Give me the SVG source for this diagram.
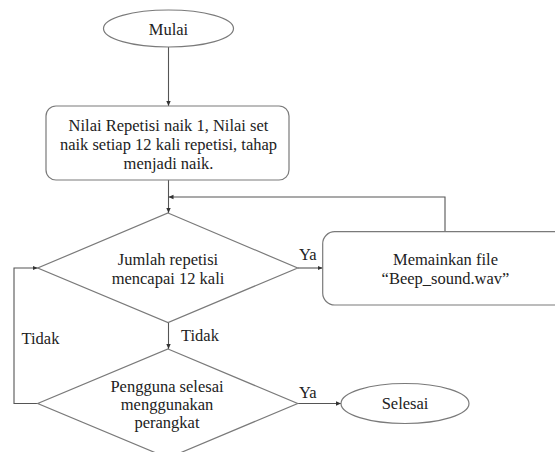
<svg xmlns="http://www.w3.org/2000/svg" width="555" height="452" viewBox="0 0 555 452">
<style>
.shape{fill:#fff;stroke:#7a7a7a;stroke-width:1.2}
.conn{fill:none;stroke:#555;stroke-width:1.1}
</style>
<defs>
<marker id="ah" markerUnits="userSpaceOnUse" markerWidth="6" markerHeight="6" refX="5" refY="3" orient="auto">
<path d="M0,0.8 L5,3 L0,5.2 Z" fill="#333"/>
</marker>
</defs>
<rect width="555" height="452" fill="#fff"/>
<g id="connectors">
<line class="conn" x1="168.5" y1="47" x2="168.5" y2="106" marker-end="url(#ah)"/>
<line class="conn" x1="168.5" y1="180" x2="168.5" y2="213" marker-end="url(#ah)"/>
<polyline class="conn" points="445,231.7 445,197 168.5,197" marker-end="url(#ah)"/>
<line class="conn" x1="297.7" y1="268" x2="322.5" y2="268" marker-end="url(#ah)"/>
<line class="conn" x1="168.5" y1="322" x2="168.5" y2="349" marker-end="url(#ah)"/>
<polyline class="conn" points="37.7,403.5 14,403.5 14,268 37.7,268" marker-end="url(#ah)"/>
<line class="conn" x1="297.7" y1="403.5" x2="341" y2="403.5" marker-end="url(#ah)"/>
<text font-family="Liberation Serif" font-size="16.5" fill="#222" x="299" y="260">Ya</text>
<text font-family="Liberation Serif" font-size="16.5" fill="#222" x="299" y="398">Ya</text>
<text font-family="Liberation Serif" font-size="16.5" fill="#222" x="181" y="341">Tidak</text>
<text font-family="Liberation Serif" font-size="16.5" fill="#222" x="21.5" y="343.5">Tidak</text>
</g>
<g id="mulai">
<ellipse class="shape" cx="168.5" cy="28.5" rx="65" ry="18.5"/>
<text font-family="Liberation Serif" font-size="16.5" fill="#222" text-anchor="middle" x="168.5" y="34.5">Mulai</text>
</g>
<g id="proses">
<rect class="shape" x="46" y="106" width="243" height="74" rx="10"/>
<text font-family="Liberation Serif" font-size="16.5" fill="#222" text-anchor="middle" x="168.5" y="130.5">Nilai Repetisi naik 1, Nilai set</text>
<text font-family="Liberation Serif" font-size="16.5" fill="#222" text-anchor="middle" x="168.5" y="149.5">naik setiap 12 kali repetisi, tahap</text>
<text font-family="Liberation Serif" font-size="16.5" fill="#222" text-anchor="middle" x="168.5" y="168.5">menjadi naik.</text>
</g>
<g id="keputusan1">
<polygon class="shape" points="168,213 297.7,268 168,322.5 37.7,268"/>
<text font-family="Liberation Serif" font-size="16.5" fill="#222" text-anchor="middle" x="168" y="265">Jumlah repetisi</text>
<text font-family="Liberation Serif" font-size="16.5" fill="#222" text-anchor="middle" x="168" y="283.5">mencapai 12 kali</text>
</g>
<g id="beep">
<rect class="shape" x="322.7" y="231.7" width="246" height="73.3" rx="12"/>
<text font-family="Liberation Serif" font-size="16.5" fill="#222" text-anchor="middle" x="445.5" y="265">Memainkan file</text>
<text font-family="Liberation Serif" font-size="16.5" fill="#222" text-anchor="middle" x="445.5" y="283.5">“Beep_sound.wav”</text>
</g>
<g id="keputusan2">
<polygon class="shape" points="168,349 297.7,403.5 168,458 37.7,403.5"/>
<text font-family="Liberation Serif" font-size="16.5" fill="#222" text-anchor="middle" x="167" y="391.5">Pengguna selesai</text>
<text font-family="Liberation Serif" font-size="16.5" fill="#222" text-anchor="middle" x="167" y="409.5">menggunakan</text>
<text font-family="Liberation Serif" font-size="16.5" fill="#222" text-anchor="middle" x="167" y="427.5">perangkat</text>
</g>
<g id="selesai">
<ellipse class="shape" cx="405" cy="403.5" rx="64" ry="20"/>
<text font-family="Liberation Serif" font-size="16.5" fill="#222" text-anchor="middle" x="405" y="409">Selesai</text>
</g>
</svg>
